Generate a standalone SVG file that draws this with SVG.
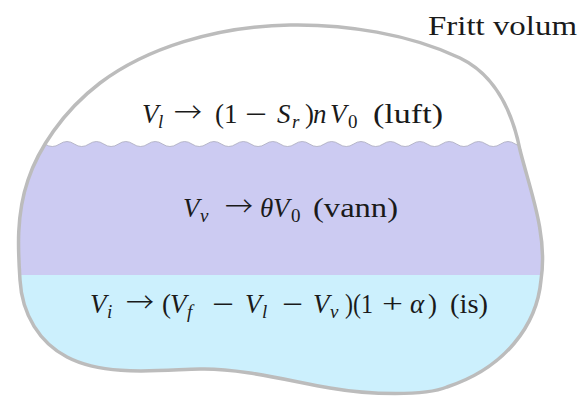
<svg xmlns="http://www.w3.org/2000/svg" width="579" height="396" viewBox="0 0 579 396">
<style>
  .t { font-family: "Liberation Serif", "DejaVu Serif", serif; font-size: 27px; fill: #1a1a1a; }
  .i { font-style: italic; }
  .s { font-size: 19px; }
  .ar { font-family: "Noto Sans CJK JP", "DejaVu Sans", sans-serif; font-size: 28px; font-weight: 300; }
</style>
<defs>
  <path id="blobPath" d="M290,25 C345,24 410,34 460,58 C495,75 512,110 520,150 C530,190 548,235 541,280 C537,325 505,368 447,387 C425,396 370,395 330,388 C290,381 240,368 200,369 C160,370 105,377 67,357 C40,343 22,315 20,280 C18,250 16,215 28,180 C38,150 62,112 100,83 C145,49 215,26 290,25 Z"/>
  <clipPath id="clip"><use href="#blobPath"/></clipPath>
</defs>
<g id="blob">
  <use href="#blobPath" fill="#ffffff"/>
  <g clip-path="url(#clip)">
    <path id="water" fill="#cccbf2" d="M0.85,144 q7.35,-5 14.7,0 t14.7,0 t14.7,0 t14.7,0 t14.7,0 t14.7,0 t14.7,0 t14.7,0 t14.7,0 t14.7,0 t14.7,0 t14.7,0 t14.7,0 t14.7,0 t14.7,0 t14.7,0 t14.7,0 t14.7,0 t14.7,0 t14.7,0 t14.7,0 t14.7,0 t14.7,0 t14.7,0 t14.7,0 t14.7,0 t14.7,0 t14.7,0 t14.7,0 t14.7,0 t14.7,0 t14.7,0 t14.7,0 t14.7,0 t14.7,0 t14.7,0 t14.7,0 t14.7,0 t14.7,0 t14.7,0 L588.85,276 L0.85,276 Z"/>
    <path id="wave" fill="none" stroke="#a9a9bd" stroke-width="0.8" d="M0.85,144 q7.35,-5 14.7,0 t14.7,0 t14.7,0 t14.7,0 t14.7,0 t14.7,0 t14.7,0 t14.7,0 t14.7,0 t14.7,0 t14.7,0 t14.7,0 t14.7,0 t14.7,0 t14.7,0 t14.7,0 t14.7,0 t14.7,0 t14.7,0 t14.7,0 t14.7,0 t14.7,0 t14.7,0 t14.7,0 t14.7,0 t14.7,0 t14.7,0 t14.7,0 t14.7,0 t14.7,0 t14.7,0 t14.7,0 t14.7,0 t14.7,0 t14.7,0 t14.7,0 t14.7,0 t14.7,0 t14.7,0 t14.7,0"/>
    <rect id="ice" x="0" y="275" width="579" height="125" fill="#ccf0fd"/>
  </g>
  <use href="#blobPath" fill="none" stroke="#bcbcbc" stroke-width="3.5"/>
</g>
<g id="labels">
  <text class="t" x="428" y="35" textLength="149" lengthAdjust="spacingAndGlyphs">Fritt volum</text>
  <text id="luft" class="t" y="123"><tspan class="i" x="142">V</tspan><tspan class="i s" x="158" y="128">l</tspan><tspan class="ar" x="174" y="123">→</tspan><tspan x="215">(1</tspan><tspan x="245" textLength="22" lengthAdjust="spacingAndGlyphs">−</tspan><tspan class="i" x="277">S</tspan><tspan class="i s" x="292" y="128">r</tspan><tspan x="305" y="123">)</tspan><tspan class="i" x="313">n</tspan><tspan class="i" x="330">V</tspan><tspan class="s" x="348" y="128">0</tspan><tspan x="373" y="123" textLength="70" lengthAdjust="spacingAndGlyphs">(luft)</tspan></text>
  <text id="vann" class="t" y="217"><tspan class="i" x="183">V</tspan><tspan class="i s" x="200" y="222">v</tspan><tspan class="ar" x="225" y="217">→</tspan><tspan class="i" x="260">θ</tspan><tspan class="i" x="273">V</tspan><tspan class="s" x="291" y="222">0</tspan><tspan x="313" y="217" textLength="85" lengthAdjust="spacingAndGlyphs">(vann)</tspan></text>
  <text id="is" class="t" y="313"><tspan class="i" x="90">V</tspan><tspan class="i s" x="107" y="318">i</tspan><tspan class="ar" x="126" y="313">→</tspan><tspan x="162">(</tspan><tspan class="i" x="170">V</tspan><tspan class="i s" x="187" y="318">f</tspan><tspan x="212" y="313" textLength="22" lengthAdjust="spacingAndGlyphs">−</tspan><tspan class="i" x="245">V</tspan><tspan class="i s" x="262" y="318">l</tspan><tspan x="282" y="313" textLength="21" lengthAdjust="spacingAndGlyphs">−</tspan><tspan class="i" x="313">V</tspan><tspan class="i s" x="330" y="318">v</tspan><tspan x="345" y="313" textLength="28" lengthAdjust="spacingAndGlyphs">)(1</tspan><tspan x="382" textLength="21" lengthAdjust="spacingAndGlyphs">+</tspan><tspan class="i" x="410">α</tspan><tspan x="428">)</tspan><tspan x="450" textLength="38" lengthAdjust="spacingAndGlyphs">(is)</tspan></text>
</g>
</svg>
